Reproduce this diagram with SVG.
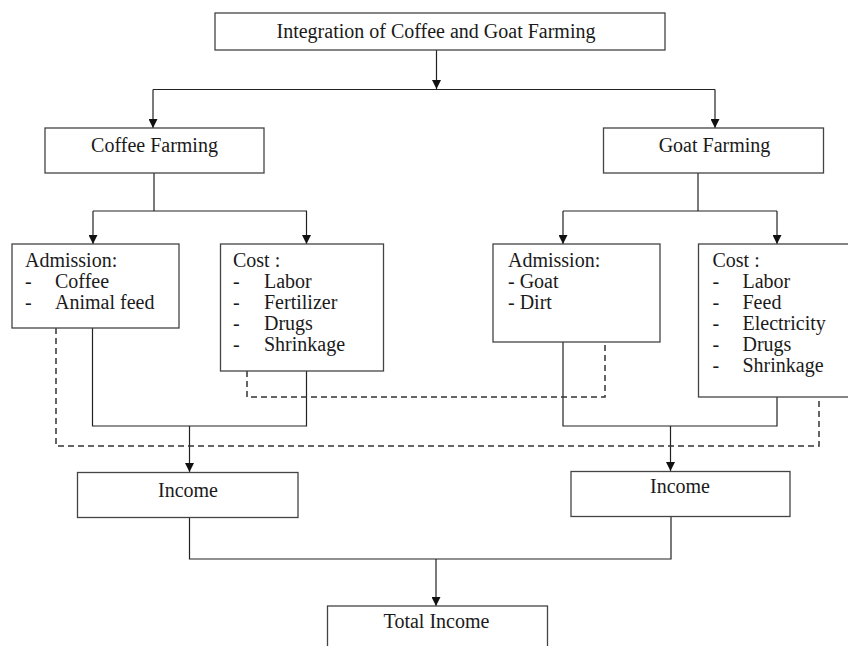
<svg xmlns="http://www.w3.org/2000/svg" width="848" height="646" viewBox="0 0 848 646">
<style>
.box{fill:#fff;stroke:#444;stroke-width:1.3}
.t{font-family:"Liberation Serif","Times New Roman",serif;font-size:20px;fill:#1a1a1a}
.c{text-anchor:middle}
.ln{fill:none;stroke:#222;stroke-width:1.2}
.ar{fill:none;stroke:#222;stroke-width:1.2;marker-end:url(#ah)}
.dash{fill:none;stroke:#333;stroke-width:1.5;stroke-dasharray:6 4}
</style>
<defs>
<marker id="ah" viewBox="0 0 10 10" refX="10" refY="5" markerWidth="10" markerHeight="9" markerUnits="userSpaceOnUse" orient="auto">
<path d="M0,0 L10,5 L0,10 z" fill="#111"/>
</marker>
</defs>
<rect width="848" height="646" fill="#fff"/>
<g id="connectors">
<path class="ar" d="M436.5,50 V89"/>
<path class="ln" d="M153,89.5 H715"/>
<path class="ar" d="M153,89.5 V128"/>
<path class="ar" d="M715,89.5 V128"/>
<path class="ln" d="M154,173 V211 M93,211 H307 M698,173 V211 M563,211 H777"/>
<path class="ar" d="M93,211 V244"/>
<path class="ar" d="M306.5,211 V244"/>
<path class="ar" d="M563,211 V244"/>
<path class="ar" d="M777,211 V244"/>
<path class="ln" d="M92.5,328 V426 H306.5 V371"/>
<path class="ln" d="M563,342 V426 H777 V397"/>
<path class="ar" d="M189.5,426 V472"/>
<path class="ar" d="M670.5,426 V471"/>
<path class="dash" d="M56,328 V446 H819 V397"/>
<path class="dash" d="M247,371 V397 H605 V342"/>
<path class="ln" d="M189.5,517 V559 H671 V517"/>
<path class="ar" d="M436,559 V606"/>
</g>
<g id="n-integration">
<rect class="box" x="215" y="13" width="450" height="37"/>
<text class="t c" x="436" y="38">Integration of Coffee and Goat Farming</text>
</g>
<g id="n-coffee">
<rect class="box" x="45" y="128" width="219" height="45"/>
<text class="t c" x="154.5" y="151.5">Coffee Farming</text>
</g>
<g id="n-goat">
<rect class="box" x="603.5" y="128" width="220" height="45"/>
<text class="t c" x="714.5" y="151.5">Goat Farming</text>
</g>
<g id="n-coffee-admission">
<rect class="box" x="12" y="244" width="167" height="84"/>
<text class="t" x="25" y="266.5">Admission:</text>
<text class="t" x="25" y="287.5">-</text><text class="t" x="55" y="287.5">Coffee</text>
<text class="t" x="25" y="308.5">-</text><text class="t" x="55" y="308.5">Animal feed</text>
</g>
<g id="n-coffee-cost">
<rect class="box" x="220.5" y="244" width="163" height="127"/>
<text class="t" x="233" y="266.5">Cost :</text>
<text class="t" x="233" y="287.5">-</text><text class="t" x="264" y="287.5">Labor</text>
<text class="t" x="233" y="308.5">-</text><text class="t" x="264" y="308.5">Fertilizer</text>
<text class="t" x="233" y="329.5">-</text><text class="t" x="264" y="329.5">Drugs</text>
<text class="t" x="233" y="350.5">-</text><text class="t" x="264" y="350.5">Shrinkage</text>
</g>
<g id="n-goat-admission">
<rect class="box" x="493" y="244" width="167" height="98"/>
<text class="t" x="508" y="266.5">Admission:</text>
<text class="t" x="508" y="287.5">- Goat</text>
<text class="t" x="508" y="308.5">- Dirt</text>
</g>
<g id="n-goat-cost">
<rect class="box" x="698.5" y="244" width="152" height="153"/>
<text class="t" x="712.5" y="266.5">Cost :</text>
<text class="t" x="712.5" y="287.5">-</text><text class="t" x="742.5" y="287.5">Labor</text>
<text class="t" x="712.5" y="308.5">-</text><text class="t" x="742.5" y="308.5">Feed</text>
<text class="t" x="712.5" y="329.5">-</text><text class="t" x="742.5" y="329.5">Electricity</text>
<text class="t" x="712.5" y="350.5">-</text><text class="t" x="742.5" y="350.5">Drugs</text>
<text class="t" x="712.5" y="371.5">-</text><text class="t" x="742.5" y="371.5">Shrinkage</text>
</g>
<g id="n-income-coffee">
<rect class="box" x="77.5" y="472.5" width="220.5" height="45"/>
<text class="t c" x="188" y="496.5">Income</text>
</g>
<g id="n-income-goat">
<rect class="box" x="571" y="471.5" width="219" height="45"/>
<text class="t c" x="680" y="493">Income</text>
</g>
<g id="n-total">
<rect class="box" x="327.5" y="606" width="220" height="60"/>
<text class="t c" x="436.5" y="627.5">Total Income</text>
</g>
</svg>
